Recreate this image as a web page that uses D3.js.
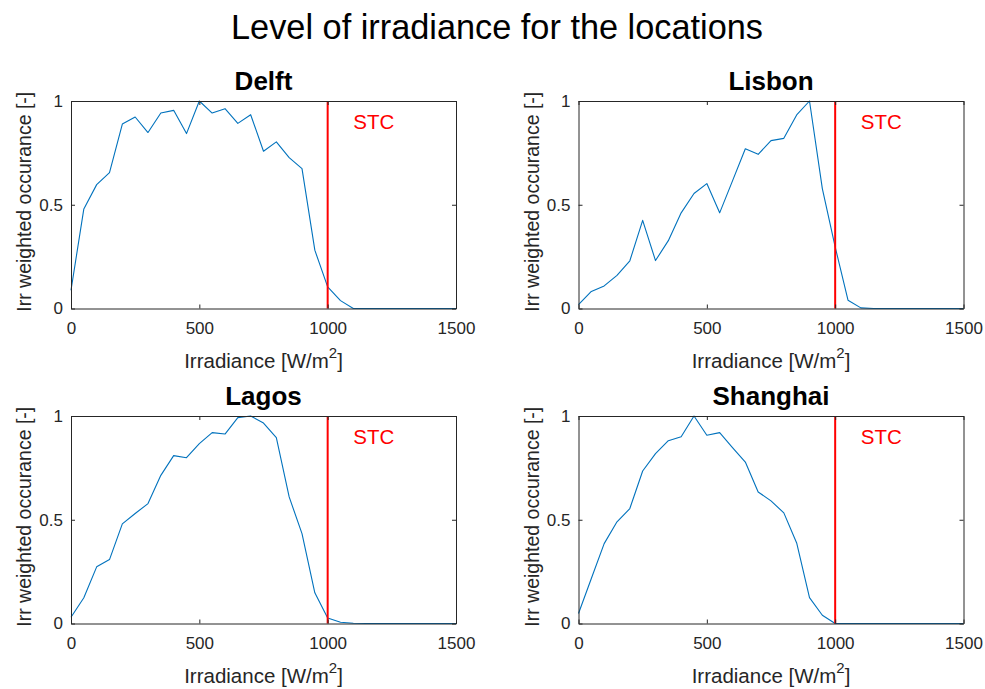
<!DOCTYPE html>
<html>
<head>
<meta charset="utf-8">
<script src="https://cdn.jsdelivr.net/npm/d3@7"></script>
<style>
  html, body { margin: 0; padding: 0; background: #fff; }
  svg { display: block; font-family: "Liberation Sans", Arial, Helvetica, sans-serif; }
</style>
</head>
<body>
<svg id="chart" width="985" height="689"></svg>
<script>
// Irradiance bins (W/m^2), 0 to 1500 in steps of 50
const irradiance = d3.range(0, 1501, 50);

// Normalised irradiance-weighted occurrence per location (one value per bin)
const delft = [0.088, 0.48, 0.597, 0.655, 0.889, 0.923, 0.848, 0.942, 0.955, 0.843,
  1.0, 0.942, 0.963, 0.892, 0.934, 0.758, 0.803, 0.727, 0.674, 0.281,
  0.104, 0.038, 0, 0, 0, 0, 0, 0, 0, 0, 0];
const lisbon = [0.019, 0.082, 0.109, 0.16, 0.23, 0.425, 0.231, 0.327, 0.461, 0.554,
  0.602, 0.461, 0.615, 0.77, 0.743, 0.809, 0.82, 0.933, 1.0, 0.578,
  0.297, 0.04, 0.003, 0, 0, 0, 0, 0, 0, 0, 0];
const lagos = [0.03, 0.124, 0.273, 0.308, 0.48, 0.53, 0.578, 0.714, 0.809, 0.799,
  0.867, 0.92, 0.913, 0.992, 1.0, 0.966, 0.896, 0.61, 0.433, 0.148,
  0.027, 0.006, 0.001, 0, 0, 0, 0, 0, 0, 0, 0];
const shanghai = [0.048, 0.217, 0.385, 0.49, 0.554, 0.735, 0.819, 0.881, 0.9, 1.0,
  0.907, 0.92, 0.848, 0.778, 0.634, 0.591, 0.533, 0.388, 0.125, 0.04,
  0, 0, 0, 0, 0, 0, 0, 0, 0, 0, 0];

const locations = ["Delft", "Lisbon", "Lagos", "Shanghai"];
const seriesByLocation = [delft, lisbon, lagos, shanghai];

// Standard Test Conditions irradiance
const stcIrradiance = 1000;
const stcLabel = "STC";

const xTicks = [0, 500, 1000, 1500];
const yTicks = [0, 0.5, 1];

const figureTitle = "Level of irradiance for the locations";
const yLabel = "Irr weighted occurance [-]";

const svg = d3.select("#chart");
const axisColor = "#262626";
const lineColor = "#0072BD";

svg.append("text")
  .attr("x", 497).attr("y", 39)
  .attr("text-anchor", "middle")
  .attr("font-size", 34.3)
  .attr("fill", "#000")
  .text(figureTitle);

// Panel plot-box origins (left, top); all panels share size
const panelW = 385, panelH = 207.5;
const origins = [[71, 101], [578.5, 101], [71, 416], [578.5, 416]];

locations.forEach((name, i) => {
  const [ox, oy] = origins[i];
  const g = svg.append("g").attr("transform", `translate(${ox},${oy})`);

  const x = d3.scaleLinear().domain([0, 1500]).range([0, panelW]);
  const y = d3.scaleLinear().domain([0, 1]).range([panelH, 0]);

  // Data line
  const line = d3.line().x((d, j) => x(irradiance[j])).y(d => y(d));
  g.append("path")
    .datum(seriesByLocation[i])
    .attr("d", line)
    .attr("fill", "none")
    .attr("stroke", lineColor)
    .attr("stroke-width", 1.1)
    .attr("stroke-linejoin", "round");

  // STC marker
  g.append("line")
    .attr("x1", x(stcIrradiance)).attr("x2", x(stcIrradiance))
    .attr("y1", y(0)).attr("y2", y(1))
    .attr("stroke", "#ff0000").attr("stroke-width", 2);
  g.append("text")
    .attr("x", x(1100)).attr("y", y(0.9))
    .attr("dy", "0.37em")
    .attr("font-size", 20.5)
    .attr("fill", "#ff0000")
    .text(stcLabel);

  // Axes with inward ticks on all four sides
  const tickLen = 4;
  const styleAxis = sel => {
    sel.selectAll(".domain").attr("stroke", axisColor);
    sel.selectAll(".tick line").attr("stroke", axisColor);
    sel.selectAll(".tick text").attr("fill", axisColor)
      .attr("font-size", 17).attr("font-family", "Liberation Sans, Arial, sans-serif");
  };

  g.append("g").attr("transform", `translate(0,${panelH})`)
    .call(d3.axisBottom(x).tickValues(xTicks).tickFormat(d3.format("d"))
      .tickSizeInner(-tickLen).tickSizeOuter(0).tickPadding(13))
    .call(styleAxis);
  g.append("g")
    .call(d3.axisTop(x).tickValues(xTicks).tickFormat("")
      .tickSizeInner(-tickLen).tickSizeOuter(0))
    .call(styleAxis);
  g.append("g")
    .call(d3.axisLeft(y).tickValues(yTicks).tickFormat(d3.format("~g"))
      .tickSizeInner(-tickLen).tickSizeOuter(0).tickPadding(8))
    .call(styleAxis);
  g.append("g").attr("transform", `translate(${panelW},0)`)
    .call(d3.axisRight(y).tickValues(yTicks).tickFormat("")
      .tickSizeInner(-tickLen).tickSizeOuter(0))
    .call(styleAxis);

  // Panel title
  g.append("text")
    .attr("x", panelW / 2).attr("y", -11)
    .attr("text-anchor", "middle")
    .attr("font-size", 26).attr("font-weight", "bold")
    .attr("fill", "#000")
    .text(name);

  // X label with superscript
  const xl = g.append("text")
    .attr("x", panelW / 2).attr("y", panelH + 59)
    .attr("text-anchor", "middle")
    .attr("font-size", 20.5)
    .attr("fill", axisColor);
  xl.append("tspan").text("Irradiance [W/m");
  xl.append("tspan").attr("dy", -10).attr("font-size", 15).text("2");
  xl.append("tspan").attr("dy", 10).text("]");

  // Y label
  g.append("text")
    .attr("transform", `translate(-40,${panelH / 2 - 3}) rotate(-90)`)
    .attr("text-anchor", "middle")
    .attr("font-size", 19.5)
    .attr("fill", axisColor)
    .text(yLabel);
});
</script>
</body>
</html>
